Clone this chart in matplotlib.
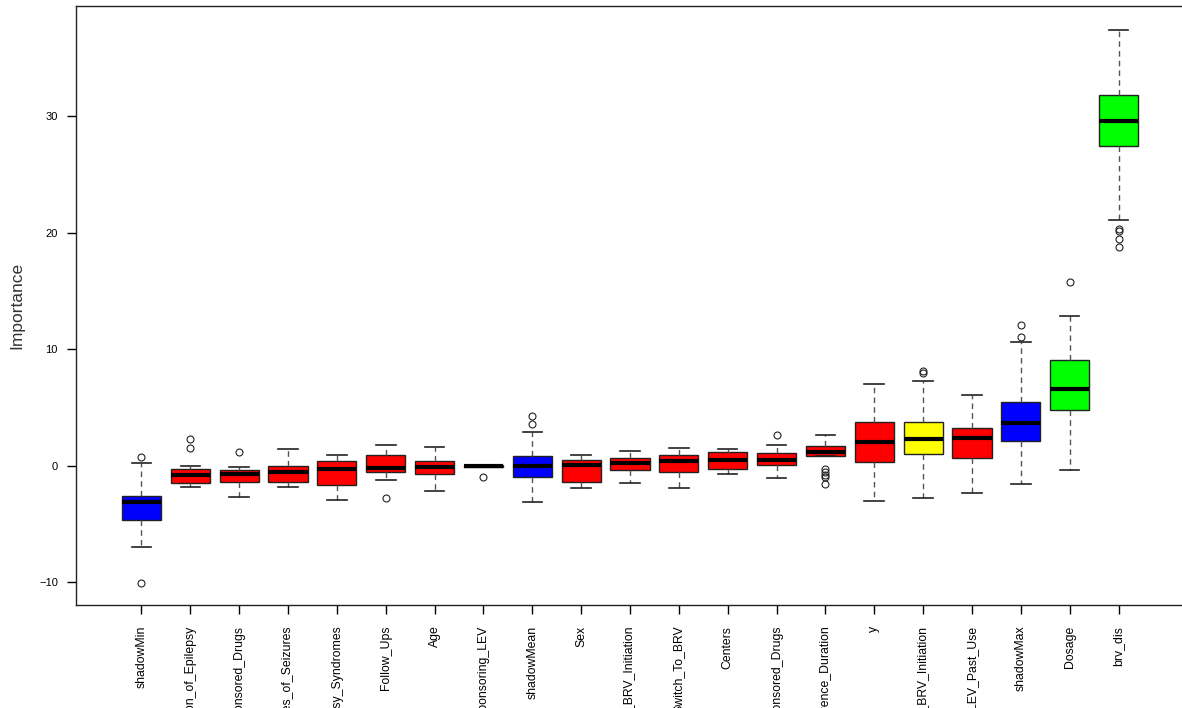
import matplotlib.pyplot as plt

plt.rcParams["font.family"] = ["Liberation Sans", "DejaVu Sans"]

features = ["shadowMin", "Duration_of_Epilepsy", "Number_of_Sponsored_Drugs", "Types_of_Seizures",
            "Epilepsy_Syndromes", "Follow_Ups", "Age", "Sponsoring_LEV", "shadowMean", "Sex",
            "Age_at_BRV_Initiation", "Switch_To_BRV", "Centers", "Non_Sponsored_Drugs",
            "Adherence_Duration", "y", "Dosage_at_BRV_Initiation", "LEV_Past_Use", "shadowMax",
            "Dosage", "brv_dis"]
decision = ["shadow", "Rejected", "Rejected", "Rejected", "Rejected", "Rejected", "Rejected",
            "Rejected", "shadow", "Rejected", "Rejected", "Rejected", "Rejected", "Rejected",
            "Rejected", "Rejected", "Tentative", "Rejected", "shadow", "Confirmed", "Confirmed"]

q1 = [-4.7, -1.5, -1.4, -1.4, -1.7, -0.55, -0.75, -0.1, -0.95, -1.4, -0.4,
      -0.55, -0.25, 0.1, 0.8, 0.35, 1.0, 0.65, 2.1, 4.75, 27.4]
med = [-3.1, -0.8, -0.7, -0.5, -0.3, -0.2, -0.15, 0.0, 0.0, 0.05, 0.2,
       0.4, 0.5, 0.5, 1.2, 2.0, 2.3, 2.4, 3.65, 6.6, 29.6]
q3 = [-2.6, -0.3, -0.4, 0.0, 0.4, 0.9, 0.4, 0.05, 0.85, 0.45, 0.65,
      0.95, 1.15, 1.05, 1.65, 3.75, 3.75, 3.25, 5.5, 9.1, 31.8]
whis_lo = [-6.95, -1.85, -2.65, -1.8, -2.95, -1.2, -2.15, -0.15, -3.15, -1.95, -1.5,
           -1.95, -0.7, -1.1, 0.8, -3.05, -2.75, -2.35, -1.55, -0.4, 21.1]
whis_hi = [0.25, 0.0, -0.15, 1.45, 0.9, 1.8, 1.6, 0.1, 2.9, 0.9, 1.3,
           1.5, 1.45, 1.8, 2.6, 7.05, 7.3, 6.1, 10.6, 12.85, 37.4]
outliers = [[0.77, -10.05], [1.5, 2.25], [1.15], [], [], [-2.75], [], [-1.0], [3.6, 4.3], [], [],
            [], [], [2.6], [-0.3, -0.5, -0.8, -0.95, -1.6], [], [7.95, 8.15], [], [11.05, 12.1],
            [15.75], [20.3, 20.15, 19.45, 18.75]]

colours = {"shadow": "#0000FF", "Rejected": "#FF0000", "Tentative": "#FFFF00", "Confirmed": "#00FF00"}

stats = []
for i in range(len(features)):
    stats.append({"label": features[i], "q1": q1[i], "med": med[i], "q3": q3[i],
                  "whislo": whis_lo[i], "whishi": whis_hi[i], "fliers": outliers[i]})

fig = plt.figure(figsize=(11.82, 7.08), dpi=100)
ax = fig.add_axes([76 / 1182, 103 / 708, 1108 / 1182, 599 / 708])

bp = ax.bxp(stats, positions=range(1, len(features) + 1), widths=0.8, patch_artist=True,
            boxprops=dict(edgecolor="#222222", linewidth=1.0),
            medianprops=dict(color="black", linewidth=3.0, solid_capstyle="butt"),
            whiskerprops=dict(color="#555555", linewidth=1.0, linestyle=(0, (4, 3))),
            capprops=dict(color="#222222", linewidth=1.2),
            capwidths=0.4,
            flierprops=dict(marker="o", markersize=5, markerfacecolor="none",
                            markeredgecolor="#222222", markeredgewidth=0.8))
for patch, d in zip(bp["boxes"], decision):
    patch.set_facecolor(colours[d])

ax.set_xlim(-0.34, 22.34)
ax.set_ylim(-11.96, 39.46)
ax.set_yticks([-10, 0, 10, 20, 30])
# tick lengths in points: 9 px at 100 dpi
ax.tick_params(axis="y", labelsize=8, length=6.5, pad=6.5, width=1)
ax.tick_params(axis="x", labelsize=8.8, length=6.5, pad=8.4, width=1, labelrotation=90)
for spine in ax.spines.values():
    spine.set_linewidth(1.0)
    spine.set_color("#222222")

ax.set_ylabel("Importance", fontsize=12.5, color="#333333")
ax.yaxis.set_label_coords(-0.047, 0.5)

fig.savefig("out.png", dpi=100)
